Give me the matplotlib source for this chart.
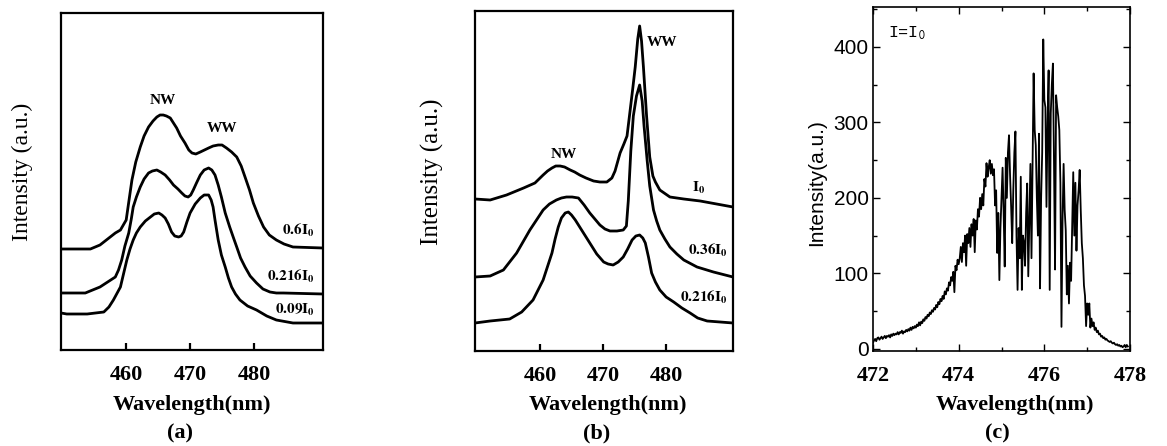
import numpy as np
import matplotlib
matplotlib.use('Agg')
import matplotlib.pyplot as plt
from matplotlib.ticker import MultipleLocator

plt.rcParams['font.family'] = 'serif'
plt.rcParams['font.serif'] = ['Liberation Serif', 'DejaVu Serif']
plt.rcParams['mathtext.fontset'] = 'stix'

# ---- panel (a): spectra at three pump intensities (arbitrary offsets) ----
a_wl_06 = [449.8, 454.4, 455.9, 456.7, 457.5, 458.3, 459.1, 460.0, 460.9, 461.5, 462.2, 462.8,
           463.5, 464.2, 464.8, 465.3, 465.8, 466.3, 466.9, 467.9, 468.5, 469.2, 469.8, 470.3,
           470.9, 471.6, 472.9, 473.6, 474.4, 475.0, 475.7, 476.5, 477.3, 478.0, 478.6, 479.3,
           479.9, 480.7, 481.5, 482.4, 483.5, 484.7, 486.1, 490.8]
a_int_06 = [101, 101, 105, 109, 113, 117, 120, 130, 170, 188, 203, 214,
            223, 229, 233, 235, 235, 234, 232, 222, 214, 207, 200, 197,
            196, 198, 202, 204, 205, 205, 202, 198, 193, 184, 173, 160,
            147, 134, 123, 115, 110, 106, 103, 102]
a_wl_0216 = [449.8, 453.6, 455.9, 458.3, 458.8, 459.3, 459.8, 460.4, 460.8, 461.1, 461.6, 462.2,
             462.8, 463.5, 464.1, 464.8, 465.4, 466.1, 466.8, 467.4, 468.1, 468.7, 469.2, 469.7,
             470.1, 470.5, 471.0, 471.6, 472.2, 472.9, 473.4, 473.9, 474.4, 474.9, 475.5, 476.2,
             476.8, 477.3, 477.9, 478.6, 479.4, 480.4, 481.4, 482.5, 483.5, 484.6, 490.8]
a_int_0216 = [57, 57, 63, 73, 80, 90, 104, 117, 131, 143, 153, 163,
              171, 177, 179, 180, 178, 175, 170, 165, 161, 157, 154, 153,
              155, 160, 167, 175, 180, 182, 180, 175, 165, 153, 137, 123,
              112, 103, 92, 83, 74, 67, 61, 58, 57, 57, 56]
a_wl_009 = [449.8, 450.7, 453.9, 456.5, 457.3, 458.0, 459.1, 460.1, 460.6, 461.1, 461.6, 462.2,
            463.0, 463.8, 464.4, 465.1, 465.6, 466.1, 466.6, 467.1, 467.6, 468.2, 468.6, 469.0,
            469.5, 470.0, 470.8, 471.6, 472.2, 472.9, 473.3, 473.6, 473.9, 474.4, 474.9, 475.5,
            476.0, 476.5, 477.1, 477.8, 479.0, 480.4, 482.0, 483.5, 486.1, 490.8]
a_int_009 = [37, 36, 36, 38, 43, 50, 63, 90, 101, 110, 117, 123,
             129, 133, 136, 137, 135, 132, 126, 118, 114, 113, 114, 118,
             128, 137, 146, 152, 155, 155, 150, 143, 130, 110, 95, 83,
             72, 63, 56, 50, 44, 40, 34, 30, 27, 27]

# ---- panel (b) ----
b_wl_1 = [449.7, 452.1, 454.7, 457.4, 459.2, 460.5, 461.2, 461.9, 462.5, 463.2, 463.9, 464.8,
          465.5, 466.3, 467.3, 468.5, 469.5, 470.6, 471.4, 471.9, 472.7, 473.3, 473.8, 474.3,
          474.7, 475.1, 475.5, 475.8, 476.1, 476.4, 476.9, 477.4, 477.9, 478.3, 479.0, 480.6,
          482.8, 485.4, 488.0, 490.6]
b_int_1 = [152, 151, 156, 163, 168, 176, 180, 183, 185, 185, 184, 181,
           179, 176, 173, 170, 169, 169, 173, 180, 198, 207, 215, 241,
           262, 284, 312, 325, 310, 284, 235, 194, 175, 169, 161, 154,
           152, 150, 147, 144]
b_wl_036 = [449.7, 452.1, 454.2, 456.3, 458.4, 460.5, 461.5, 462.6, 463.4, 464.2, 465.1, 466.1,
            467.0, 467.9, 468.7, 469.5, 470.3, 471.1, 472.2, 473.2, 473.7, 474.0, 474.4, 474.8,
            475.3, 475.8, 476.2, 476.5, 477.0, 477.4, 478.0, 478.5, 479.0, 479.8, 480.6, 481.7,
            482.8, 484.9, 487.5, 490.6]
b_int_036 = [74, 75, 81, 98, 121, 141, 147, 151, 153, 154, 154, 153,
             146, 138, 132, 126, 122, 120, 120, 121, 125, 150, 200, 235,
             255, 266, 250, 225, 190, 165, 141, 130, 121, 112, 104, 97,
             91, 84, 79, 74]
b_wl_0216 = [449.7, 452.1, 455.2, 457.1, 458.9, 460.5, 461.9, 462.4, 462.9, 463.4, 464.0, 464.5,
             465.0, 465.6, 466.3, 467.1, 467.9, 469.0, 470.1, 470.8, 471.6, 472.4, 473.2, 473.9,
             474.6, 475.2, 475.8, 476.3, 476.7, 477.2, 477.7, 478.3, 479.0, 480.0, 481.2, 482.5,
             483.8, 485.0, 486.5, 490.6]
b_int_0216 = [28, 30, 32, 39, 51, 71, 98, 112, 124, 133, 138, 139,
              136, 131, 124, 116, 108, 97, 89, 87, 86, 89, 94, 102,
              111, 115, 116, 113, 108, 94, 78, 69, 61, 54, 49, 43,
              38, 33, 30, 28]

# ---- panel (c): measured spectrum at I = I0, sampled every 0.025 nm from 472 nm ----
c_start = 472.0
c_step = 0.025
c_intensity = [
    8, 11, 13, 10, 14, 15, 12, 14, 16, 13, 15, 17, 14, 17, 16, 18, 15, 19, 17, 20,
    18, 20, 19, 22, 19, 22, 21, 24, 20, 23, 22, 25, 23, 26, 24, 28, 25, 29, 27, 30, 28,
    32, 30, 35, 31, 36, 34, 39, 37, 42, 40, 45, 43, 48, 46, 51, 49, 54, 52, 58, 55,
    62, 59, 66, 63, 70, 66, 76, 72, 80, 77, 88, 84, 95, 90, 102, 75, 110, 104, 118, 112,
    120, 135, 115, 140, 128, 150, 110, 152, 140, 160, 135, 165, 150, 172, 128, 170, 158, 185, 175, 200,
    185, 205, 190, 225, 215, 246, 228, 240, 250, 232, 245, 230, 238, 190, 210, 127, 180, 91, 160, 200,
    240, 180, 109, 253, 200, 260, 283, 230, 188, 140, 210, 260, 288, 150, 78, 160, 120, 228, 78, 150,
    141, 110, 180, 219, 96, 170, 245, 120, 241, 365, 290, 270, 200, 150, 285, 80, 200, 260, 410, 330,
    320, 188, 300, 369, 78, 312, 350, 378, 250, 105, 336, 320, 308, 290, 220, 29, 170, 245, 184, 157,
    72, 110, 60, 114, 90, 160, 234, 150, 220, 130, 190, 210, 237, 184, 140, 120, 84, 70, 30, 60,
    45, 60, 28, 40, 30, 35, 25, 28, 22, 24, 19, 20, 16, 17, 14, 15, 12, 13, 11, 10,
    9, 10, 8, 7, 8, 6, 5, 6, 4, 5, 3, 4, 2, 3, 5, 2, 5, 3,
]
c_wl = c_start + c_step * np.arange(len(c_intensity))

W, H = 1167, 446
fig = plt.figure(figsize=(W / 100, H / 100), dpi=100)


def frac(l, t, r, b):
    return [l / W, 1 - b / H, (r - l) / W, (b - t) / H]


lw = 2.0

# (a)
ax1 = fig.add_axes(frac(61, 13, 323, 350))
ax1.plot(a_wl_06, a_int_06, color='black', lw=lw, solid_joinstyle='round')
ax1.plot(a_wl_0216, a_int_0216, color='black', lw=lw, solid_joinstyle='round')
ax1.plot(a_wl_009, a_int_009, color='black', lw=lw, solid_joinstyle='round')
ax1.set_xlim(449.8, 490.8)
ax1.set_ylim(0, 337)
ax1.text(465.8, 250, 'NW', fontsize=11, fontweight='bold', ha='center', va='center')
ax1.text(475.0, 222, 'WW', fontsize=11, fontweight='bold', ha='center', va='center')
ax1.text(489.5, 120, r'$\mathbf{0.6I_0}$', fontsize=11, ha='right', va='center')
ax1.text(489.5, 74, r'$\mathbf{0.216I_0}$', fontsize=11, ha='right', va='center')
ax1.text(489.5, 40, r'$\mathbf{0.09I_0}$', fontsize=11, ha='right', va='center')

# (b)
ax2 = fig.add_axes(frac(475, 11, 733, 351))
ax2.plot(b_wl_1, b_int_1, color='black', lw=lw, solid_joinstyle='round')
ax2.plot(b_wl_036, b_int_036, color='black', lw=lw, solid_joinstyle='round')
ax2.plot(b_wl_0216, b_int_0216, color='black', lw=lw, solid_joinstyle='round')
ax2.set_xlim(449.7, 490.6)
ax2.set_ylim(0, 340)
ax2.text(463.7, 197, 'NW', fontsize=11, fontweight='bold', ha='center', va='center')
ax2.text(479.3, 308, 'WW', fontsize=11, fontweight='bold', ha='center', va='center')
ax2.text(485.1, 163, r'$\mathbf{I_0}$', fontsize=11, ha='center', va='center')
ax2.text(486.7, 101, r'$\mathbf{0.36I_0}$', fontsize=11, ha='center', va='center')
ax2.text(485.9, 54, r'$\mathbf{0.216I_0}$', fontsize=11, ha='center', va='center')

for ax in (ax1, ax2):
    ax.set_xticks([460, 470, 480])
    ax.set_yticks([])
    ax.tick_params(axis='x', direction='in', length=5, width=1.6, pad=11)
    for lab in ax.get_xticklabels():
        lab.set_fontsize(16)
        lab.set_fontweight('bold')
    for sp in ax.spines.values():
        sp.set_linewidth(1.6)

# (c)
ax3 = fig.add_axes(frac(873, 7, 1130, 351))
ax3.plot(c_wl, c_intensity, color='black', lw=1.3)
ax3.set_xlim(472, 478)
ax3.set_ylim(-3, 453)
ax3.xaxis.set_major_locator(MultipleLocator(2))
ax3.xaxis.set_minor_locator(MultipleLocator(1))
ax3.yaxis.set_major_locator(MultipleLocator(100))
ax3.yaxis.set_minor_locator(MultipleLocator(50))
ax3.tick_params(which='both', direction='in', top=True, right=True, width=1.0)
ax3.tick_params(which='major', length=5)
ax3.tick_params(which='minor', length=3)
ax3.tick_params(axis='x', pad=11)
ax3.tick_params(axis='y', pad=3)
for lab in ax3.get_xticklabels():
    lab.set_fontsize(16)
    lab.set_fontweight('bold')
for lab in ax3.get_yticklabels():
    lab.set_fontsize(15)
    lab.set_family('Liberation Sans')
for sp in ax3.spines.values():
    sp.set_linewidth(1.2)
ax3.text(472.35, 418, r'I=I$_{\mathsf{0}}$', fontsize=12, family='Liberation Mono',
         ha='left', va='center')

# axis titles and panel letters
fig.text(22 / W, 1 - 172 / H, 'Intensity (a.u.)', rotation=90, fontsize=17, ha='center', va='center')
fig.text(432 / W, 1 - 172 / H, 'Intensity (a.u.)', rotation=90, fontsize=18, ha='center', va='center')
fig.text(817 / W, 1 - 183 / H, 'Intensity(a.u.)', rotation=90, fontsize=15,
         family='Liberation Sans', ha='center', va='center')

for xc in (192, 608, 1015):
    fig.text(xc / W, 1 - 405 / H, 'Wavelength(nm)', fontsize=16, fontweight='bold',
             ha='center', va='center')
fig.text(180 / W, 1 - 433 / H, '(a)', fontsize=16, fontweight='bold', ha='center', va='center')
fig.text(597 / W, 1 - 433 / H, '(b)', fontsize=16, fontweight='bold', ha='center', va='center')
fig.text(997 / W, 1 - 433 / H, '(c)', fontsize=16, fontweight='bold', ha='center', va='center')

fig.savefig('out.png', dpi=100)
